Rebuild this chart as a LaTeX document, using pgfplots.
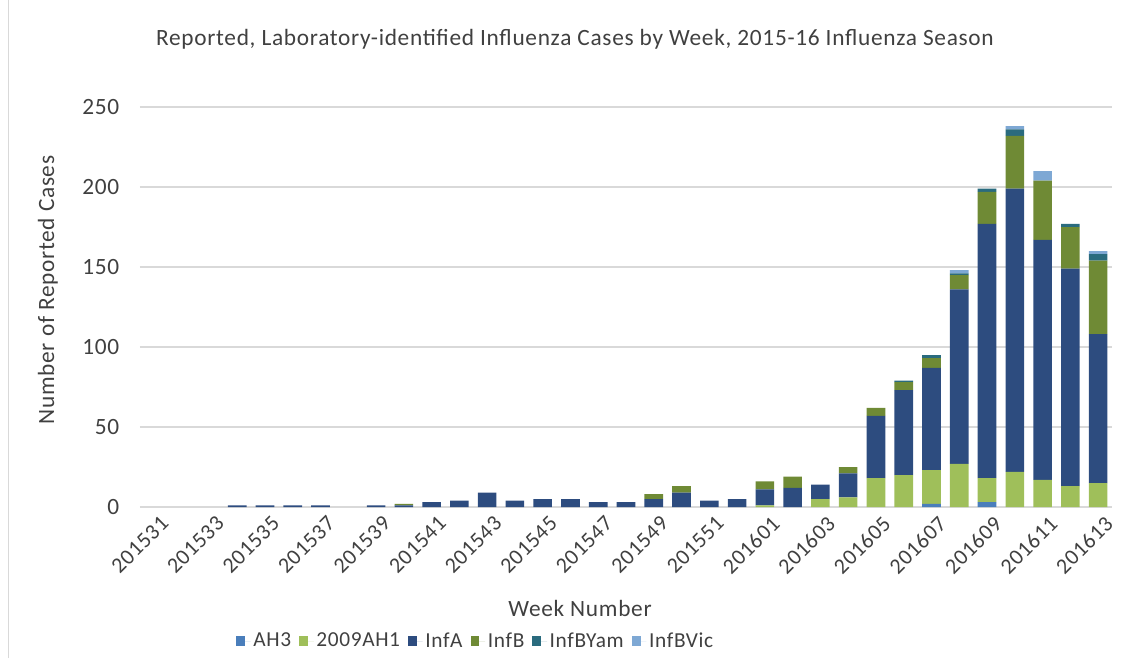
\documentclass[border=0pt]{standalone}
\usepackage{pgfplots}
\usepackage{pgfplotstable}
\pgfplotsset{compat=1.18}
\usepackage{fontspec}
\setmainfont{Carlito}[LetterSpace=3]
\definecolor{cAH3}{HTML}{4A7EBB}
\definecolor{cAH1}{HTML}{9FBF5A}
\definecolor{cInfA}{HTML}{2D4C7F}
\definecolor{cInfB}{HTML}{6F8A35}
\definecolor{cYam}{HTML}{2A6B7E}
\definecolor{cVic}{HTML}{7EA8D4}
\definecolor{gridc}{HTML}{D9D9D9}
\definecolor{textc}{HTML}{404040}
\pgfplotstableread{
idx week AH3 AH1 InfA InfB Yam Vic
0 201531 0 0 0 0 0 0
1 201532 0 0 0 0 0 0
2 201533 0 0 0 0 0 0
3 201534 0 0 1 0 0 0
4 201535 0 0 1 0 0 0
5 201536 0 0 1 0 0 0
6 201537 0 0 1 0 0 0
7 201538 0 0 0 0 0 0
8 201539 0 0 1 0 0 0
9 201540 0 0 1 1 0 0
10 201541 0 0 3 0 0 0
11 201542 0 0 4 0 0 0
12 201543 0 0 9 0 0 0
13 201544 0 0 4 0 0 0
14 201545 0 0 5 0 0 0
15 201546 0 0 5 0 0 0
16 201547 0 0 3 0 0 0
17 201548 0 0 3 0 0 0
18 201549 0 0 5 3 0 0
19 201550 0 0 9 4 0 0
20 201551 0 0 4 0 0 0
21 201552 0 0 5 0 0 0
22 201601 0 1 10 5 0 0
23 201602 0 0 12 7 0 0
24 201603 0 5 9 0 0 0
25 201604 0 6 15 4 0 0
26 201605 0 18 39 5 0 0
27 201606 0 20 53 5 1 0
28 201607 2 21 64 6 2 0
29 201608 0 27 109 9 1 2
30 201609 3 15 159 20 2 0
31 201610 0 22 177 33 4 2
32 201611 0 17 150 37 0 6
33 201612 0 13 136 26 2 0
34 201613 0 15 93 46 4 2
}\datatable
\begin{document}
\begin{tikzpicture}
\path[use as bounding box] (-105pt,-113.25pt) rectangle (744pt,380.25pt);
\draw[gridc] (-99pt,-113.25pt) -- (-99pt,380.25pt);
\begin{axis}[
  at={(0,0)}, anchor=south west,
  scale only axis, width=729pt, height=300pt,
  ybar stacked, bar width=0.67,
  xmin=-0.5, xmax=34.5, ymin=0, ymax=250,
  ytick={0,50,...,250},
  xtick={0,2,...,34},
  xticklabels={201531,201533,201535,201537,201539,201541,201543,201545,201547,201549,201551,201601,201603,201605,201607,201609,201611,201613},
  font=\fontsize{17.5}{20}\selectfont,
  /pgf/number format/assume math mode=true,
  ticklabel style={text=textc},
  xticklabel style={rotate=45, anchor=north east, inner sep=1pt, yshift=-6pt, font=\fontsize{16.5}{19}\selectfont},
  yticklabel style={xshift=-12pt},
  major tick length=0pt,
  axis x line*=bottom, axis y line*=left,
  y axis line style={draw=none},
  x axis line style={draw=gridc, line width=1pt},
  ymajorgrids, major grid style={draw=gridc, line width=0.8pt},
  title={Reported, Laboratory-identified Influenza Cases by Week, 2015-16 Influenza Season},
  title style={at={(axis description cs:0.4475,1.15)}, anchor=center, yshift=0pt, text=textc},
  ylabel={Number of Reported Cases},
  ylabel style={at={(axis description cs:-0.0947,0.5425)}, anchor=center, text=textc},
  xlabel={Week Number},
  xlabel style={at={(axis description cs:0.4527,-0.2525)}, anchor=center, text=textc},
  legend columns=6,
  legend style={at={(axis description cs:0.3457,-0.335)}, anchor=center, draw=none, fill=none,
    font=\fontsize{16}{19}\selectfont, text=textc,
    /tikz/every even column/.append style={column sep=4pt}},
  legend image code/.code={\fill[#1] (0pt,-3.4pt) rectangle (6.6pt,3.4pt); \path (0pt,0pt) -- (11pt,0pt);},
  draw=none,
]
\addplot[fill=cAH3, draw=none] table[x=idx, y=AH3] {\datatable};
\addplot[fill=cAH1, draw=none] table[x=idx, y=AH1] {\datatable};
\addplot[fill=cInfA, draw=none] table[x=idx, y=InfA] {\datatable};
\addplot[fill=cInfB, draw=none] table[x=idx, y=InfB] {\datatable};
\addplot[fill=cYam, draw=none] table[x=idx, y=Yam] {\datatable};
\addplot[fill=cVic, draw=none] table[x=idx, y=Vic] {\datatable};
\legend{AH3,2009AH1,InfA,InfB,InfBYam,InfBVic}
\end{axis}
\end{tikzpicture}
\end{document}
